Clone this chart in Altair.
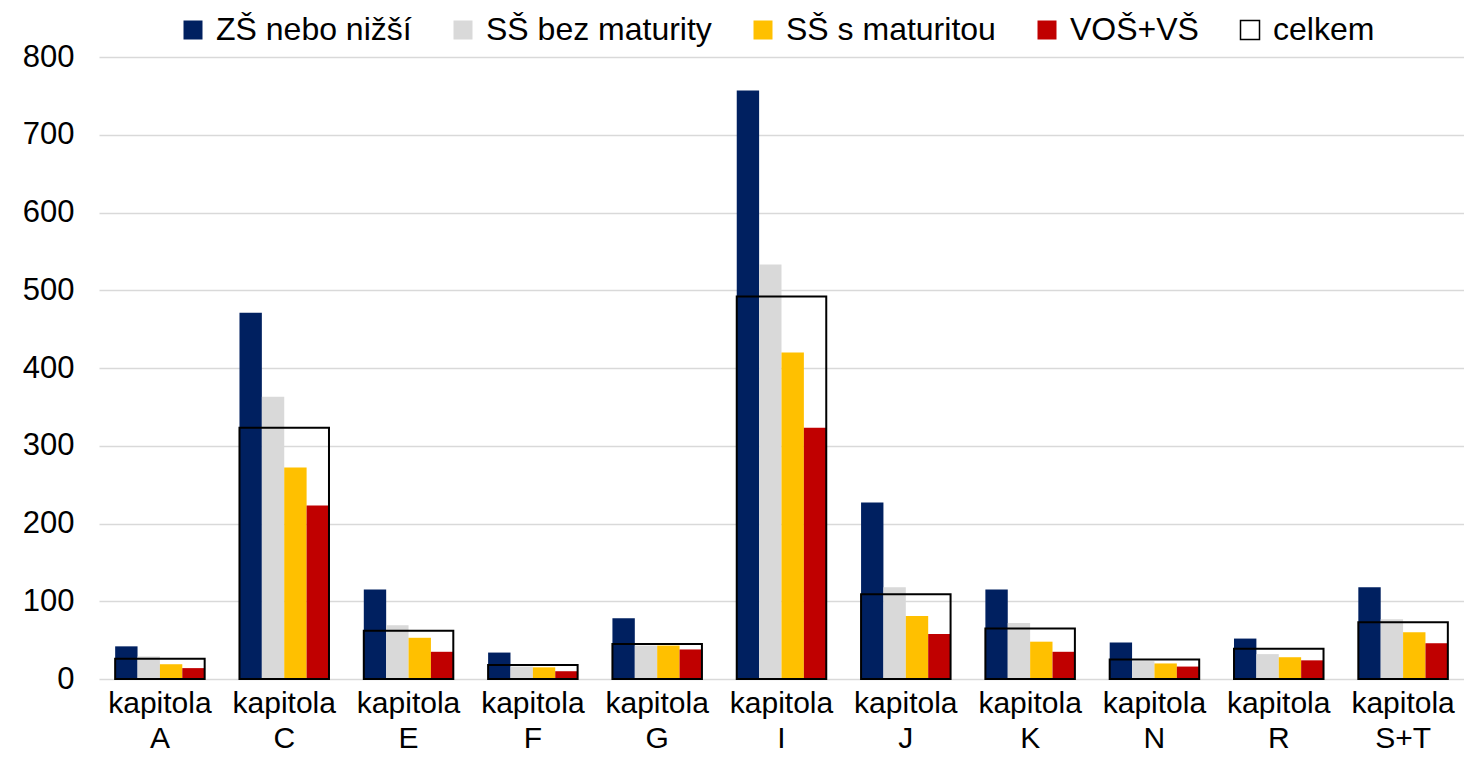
import altair as alt
import pandas as pd

categories = ["A", "C", "E", "F", "G", "I", "J", "K", "N", "R", "S+T"]
series = ["ZŠ nebo nižší", "SŠ bez maturity", "SŠ s maturitou", "VOŠ+VŠ"]
zs = [42, 471, 115, 34, 78, 757, 227, 115, 47, 52, 118]
ss_bez = [29, 363, 69, 16, 43, 533, 118, 72, 23, 32, 77]
ss_mat = [19, 272, 53, 15, 43, 420, 81, 48, 20, 28, 60]
vos_vs = [14, 223, 35, 10, 38, 323, 58, 35, 16, 24, 46]
celkem = [26, 323, 62, 18, 45, 492, 109, 65, 25, 39, 73]
total_label = "celkem"
colors = ["#002060", "#D9D9D9", "#FFC000", "#C00000", "#FFFFFF"]
y_ticks = [0, 100, 200, 300, 400, 500, 600, 700, 800]

rows = []
for s, vals in zip(series, [zs, ss_bez, ss_mat, vos_vs]):
    for c, v in zip(categories, vals):
        rows.append({"cat": c, "series": s, "value": v})
df = pd.DataFrame(rows)
df_tot = pd.DataFrame({"cat": categories, "celkem": celkem})

FONT = "Liberation Sans"

x_enc = alt.X(
    "cat:N",
    sort=categories,
    scale=alt.Scale(paddingInner=0.28, paddingOuter=0.13),
    axis=alt.Axis(
        title=None,
        labelAngle=0,
        labelExpr="['kapitola', datum.label]",
        labelFontSize=30,
        labelLineHeight=35,
        labelColor="black",
        labelPadding=9,
        ticks=False,
        domain=False,
        grid=False,
    ),
)

y_scale = alt.Scale(domain=[0, 800], nice=False)

bars = alt.Chart(df).mark_bar().encode(
    x=x_enc,
    xOffset=alt.XOffset(
        "series:N",
        sort=series,
        scale=alt.Scale(domain=series, paddingInner=0, paddingOuter=0),
    ),
    y=alt.Y(
        "value:Q",
        scale=y_scale,
        axis=alt.Axis(
            title=None,
            values=y_ticks,
            labelFontSize=31,
            labelColor="black",
            labelPadding=25,
            grid=True,
            gridColor="#D9D9D9",
            gridWidth=1.5,
            domain=False,
            ticks=False,
        ),
    ),
    color=alt.Color(
        "series:N",
        scale=alt.Scale(domain=series + [total_label], range=colors),
        legend=alt.Legend(
            title=None,
            orient="none",
            direction="horizontal",
            legendX=78,
            legendY=-43,
            symbolType="square",
            symbolSize=361,
            symbolStrokeColor="black",
            symbolStrokeWidth=alt.ExprRef("datum.value === 'celkem' ? 1.5 : 0"),
            labelFontSize=32,
            labelLimit=0,
            labelColor="black",
            labelOffset=7,
            columnPadding=35,
        ),
    ),
)

box = alt.Chart(df_tot).mark_bar(
    fill="transparent", stroke="black", strokeWidth=2
).encode(
    x=alt.X("cat:N", sort=categories),
    y=alt.Y("celkem:Q", scale=y_scale),
)

chart = (
    alt.layer(bars, box)
    .properties(
        width=1365,
        height=622,
        padding={"left": 14, "top": 6, "right": 0, "bottom": 0},
    )
    .configure(font=FONT)
    .configure_view(stroke=None)
)

chart.save("out.html", embed_options={"renderer": "svg", "actions": False})
